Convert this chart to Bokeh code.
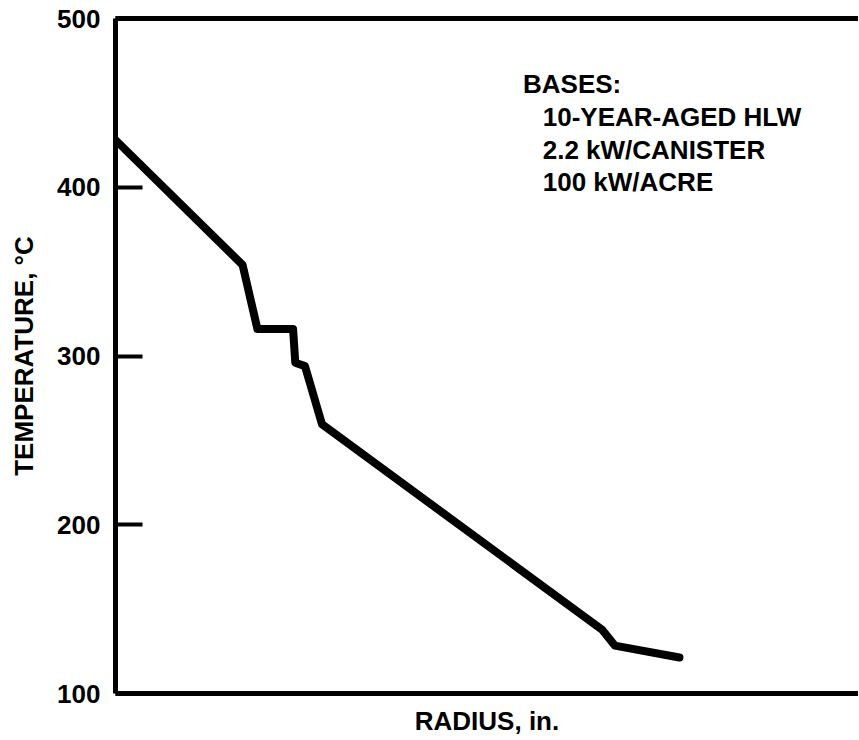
from bokeh.plotting import figure
from bokeh.models import LinearAxis, FixedTicker, Label, Range1d
from bokeh.embed import file_html
from bokeh.resources import INLINE

# Data (radius in arbitrary units, no x ticks in the original)
radius = [0.0, 17.1, 19.1, 23.9, 24.2, 25.5, 27.8, 65.5, 67.2, 75.9]
temperature = [428, 354, 316, 316, 296, 294, 259.5, 137.8, 128.4, 121.3]
y_ticks = [100, 200, 300, 400, 500]
notes_title = "BASES:"
notes = ["10-YEAR-AGED HLW", "2.2 kW/CANISTER", "100 kW/ACRE"]

FONT = "Liberation Sans"

p = figure(width=858, height=738, output_backend="svg", toolbar_location=None,
           x_range=Range1d(0, 100), y_range=Range1d(100, 500),
           x_axis_location=None, y_axis_location=None,
           min_border_left=115, min_border_top=18, min_border_bottom=43, min_border_right=0)
p.grid.visible = False
p.outline_line_color = None
p.background_fill_color = "white"
p.border_fill_color = "white"

# Left axis
ya = LinearAxis(ticker=FixedTicker(ticks=y_ticks), axis_label="TEMPERATURE, \u00b0C")
ya.axis_line_width = 5
ya.axis_line_color = "black"
ya.major_tick_in = 27
ya.major_tick_out = 0
ya.major_tick_line_width = 4
ya.minor_tick_line_color = None
ya.major_label_standoff = 15
ya.major_label_text_font = FONT
ya.major_label_text_font_style = "bold"
ya.major_label_text_font_size = "26px"
ya.major_label_text_color = "black"
ya.axis_label_text_font = FONT
ya.axis_label_text_font_style = "bold"
ya.axis_label_text_font_size = "26px"
ya.axis_label_text_color = "black"
ya.axis_label_standoff = 15
p.add_layout(ya, "left")

# Bottom axis (no ticks)
xa = LinearAxis(ticker=FixedTicker(ticks=[]), axis_label="RADIUS, in.")
xa.axis_line_width = 5
xa.axis_line_color = "black"
xa.major_tick_line_color = None
xa.minor_tick_line_color = None
xa.major_label_text_font_size = "0px"
xa.axis_label_text_font = FONT
xa.axis_label_text_font_style = "bold"
xa.axis_label_text_font_size = "26px"
xa.axis_label_text_color = "black"
xa.axis_label_standoff = 12
p.add_layout(xa, "below")

# Top frame line
ta = LinearAxis(ticker=FixedTicker(ticks=[]))
ta.axis_line_width = 5
ta.axis_line_color = "black"
ta.major_tick_line_color = None
ta.minor_tick_line_color = None
ta.major_label_text_font_size = "0px"
p.add_layout(ta, "above")

p.line(radius, temperature, line_width=8, line_color="black",
       line_join="round", line_cap="round")

# Annotation block
p.add_layout(Label(x=54.85, y=461.0, text=notes_title, text_font=FONT,
                   text_font_style="bold", text_font_size="26px",
                   text_color="black", text_baseline="alphabetic"))
note_y = [441.5, 422.0, 403.0]
for t, yy in zip(notes, note_y):
    p.add_layout(Label(x=57.5, y=yy, text=t, text_font=FONT,
                       text_font_style="bold", text_font_size="26px",
                       text_color="black", text_baseline="alphabetic"))

open("out.html", "w").write(file_html(p, INLINE))
